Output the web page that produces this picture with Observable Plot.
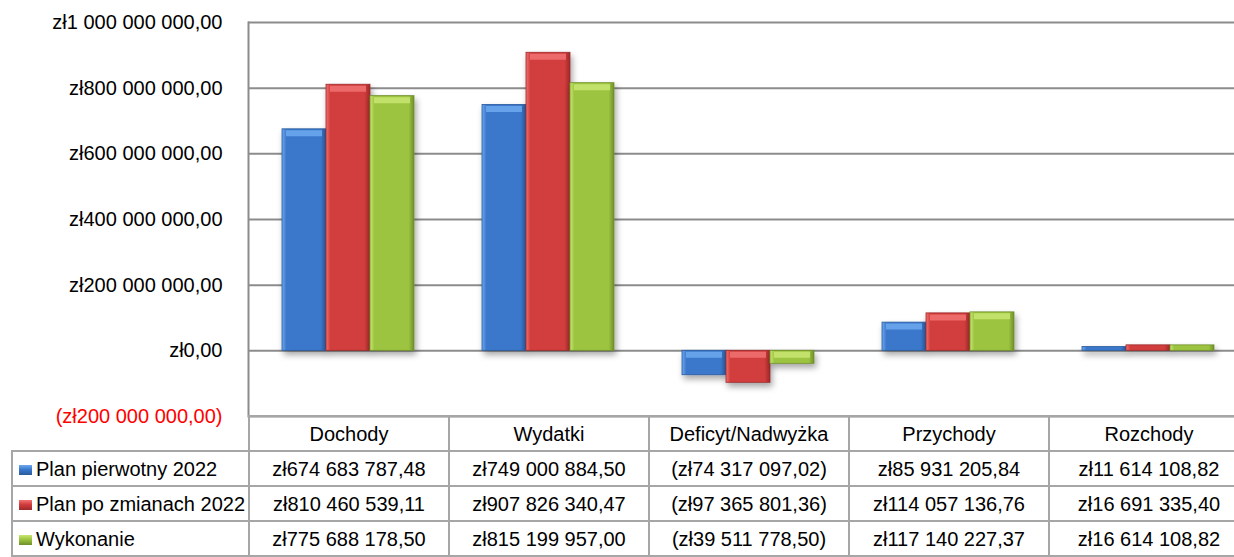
<!DOCTYPE html>
<html><head><meta charset="utf-8">
<script src="https://cdn.jsdelivr.net/npm/d3@7"></script>
<script src="https://cdn.jsdelivr.net/npm/@observablehq/plot@0.6"></script>
<style>
html,body{margin:0;padding:0;background:#fff;overflow:hidden;width:1234px;height:557px;}
#wrap{position:relative;width:1250px;height:557px;font-family:"Liberation Sans",Arial,sans-serif;}
#chart{position:absolute;left:0;top:0;}
#tbl{position:absolute;left:11px;top:415px;border-collapse:collapse;table-layout:fixed;width:1237px;font-size:20px;color:#000;font-family:"Liberation Sans",Arial,sans-serif;}
#tbl td{border:2px solid #a6a6a6;padding:0;text-align:center;white-space:nowrap;overflow:hidden;line-height:20px;}
#tbl tr{height:35px;}
#tbl td.lab{text-align:left;}
#tbl td.blank{border-top:none;border-left:none;}
.sw{display:inline-block;width:13px;height:10px;margin:0 4px 0 6px;vertical-align:1px;}
</style>
</head><body>
<div id="wrap"><div id="chart"></div><table id="tbl"></table></div>
<script>
const categories = ["Dochody", "Wydatki", "Deficyt/Nadwyżka", "Przychody", "Rozchody"];
const seriesNames = ["Plan pierwotny 2022", "Plan po zmianach 2022", "Wykonanie"];
const planPierwotny = [674683787.48, 749000884.50, -74317097.02, 85931205.84, 11614108.82];
const planPoZmianach = [810460539.11, 907826340.47, -97365801.36, 114057136.76, 16691335.40];
const wykonanie = [775688178.50, 815199957.00, -39511778.50, 117140227.37, 16614108.82];
const yTicks = [-200000000, 0, 200000000, 400000000, 600000000, 800000000, 1000000000];

const baseColors = ["#3a78cc", "#d23c3c", "#9dc43f"];
const lightColors = ["#6fa9ee", "#f27272", "#c8e673"];
const darkColors = ["#2a5a9c", "#9c2a2a", "#6f8f2a"];

const valuesBySeries = [planPierwotny, planPoZmianach, wykonanie];
const data = categories.flatMap((c, i) => seriesNames.map((s, j) => ({category: c, series: s, value: valuesBySeries[j][i]})));

const loc = d3.formatLocale({decimal: ",", thousands: " ", grouping: [3], currency: ["zł", ""]});
const base = loc.format(",.2f");
const fmtMoney = v => v < 0 ? `(zł${base(-v)})` : `zł${base(v)}`;

const font = '"Liberation Sans", Arial, sans-serif';
const grid = "#8c8c8c";

const chart = Plot.plot({
  width: 1250, height: 418,
  marginLeft: 248, marginRight: 2, marginTop: 22, marginBottom: 2,
  style: {fontFamily: font, fontSize: "20px", background: "transparent", overflow: "visible"},
  fx: {domain: categories, padding: 0, axis: null, label: null},
  x: {domain: seriesNames, paddingInner: 0, paddingOuter: 0.74, axis: null, label: null},
  y: {domain: [-200000000, 1000000000], axis: null, label: null},
  marks: [
    Plot.ruleY(yTicks, {stroke: grid, strokeWidth: 2}),
    Plot.frame({anchor: "left", facetAnchor: "left", stroke: grid, strokeWidth: 2}),
    ...seriesNames.map((s, j) => Plot.barY(data.filter(d => d.series === s), {
      fx: "category", x: "series", y: "value",
      fill: `url(#grad${j})`, stroke: darkColors[j], strokeWidth: 0.8
    })),
    ...seriesNames.map((s, j) => Plot.tickY(data.filter(d => d.series === s && Math.abs(d.value) > 30000000), {
      fx: "category", x: "series", y: d => Math.max(d.value, 0),
      stroke: lightColors[j], strokeWidth: 6, dy: 4, insetLeft: 4, insetRight: 4, strokeOpacity: 0.85
    })),
    Plot.axisY(yTicks, {
      tickSize: 0, tickPadding: 26, tickFormat: fmtMoney, label: null,
      fill: d => d < 0 ? "#ff0000" : "#000000", fontSize: 20
    })
  ]
});

const svg = d3.select(chart);
const defs = svg.insert("defs", ":first-child");
defs.append("filter").attr("id", "shadow").attr("x", "-20%").attr("y", "-20%").attr("width", "150%").attr("height", "150%")
  .append("feDropShadow").attr("dx", 2).attr("dy", 4).attr("stdDeviation", 3).attr("flood-color", "#000").attr("flood-opacity", 0.35);
baseColors.forEach((c, j) => {
  const g = defs.append("linearGradient").attr("id", `grad${j}`).attr("x1", 0).attr("x2", 1).attr("y1", 0).attr("y2", 0);
  g.append("stop").attr("offset", "0").attr("stop-color", lightColors[j]);
  g.append("stop").attr("offset", "0.1").attr("stop-color", c);
  g.append("stop").attr("offset", "0.88").attr("stop-color", c);
  g.append("stop").attr("offset", "1").attr("stop-color", darkColors[j]);
});
svg.selectAll('g[aria-label="bar"]').attr("filter", "url(#shadow)");
document.getElementById("chart").appendChild(chart);

// data table
const tbl = d3.select("#tbl");
const cg = tbl.append("colgroup");
cg.append("col").style("width", "237px");
categories.forEach(() => cg.append("col").style("width", "200px"));
const hr = tbl.append("tr");
hr.append("td").attr("class", "blank");
categories.forEach(c => hr.append("td").text(c));
seriesNames.forEach((s, j) => {
  const tr = tbl.append("tr");
  const td = tr.append("td").attr("class", "lab");
  td.append("span").attr("class", "sw").style("background", `linear-gradient(180deg, ${lightColors[j]} 0%, ${baseColors[j]} 45%, ${darkColors[j]} 100%)`);
  td.append("span").text(s);
  valuesBySeries[j].forEach(v => tr.append("td").text(fmtMoney(v)));
});
</script>
</body></html>
